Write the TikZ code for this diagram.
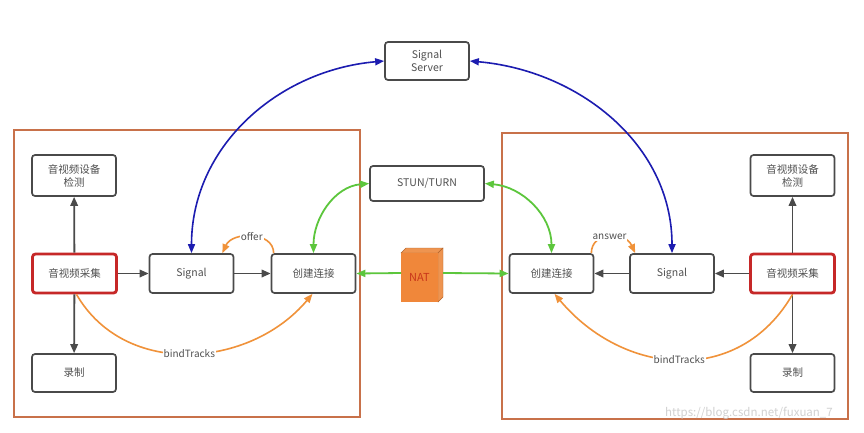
\documentclass[tikz,border=0pt]{standalone}
\usepackage{fontspec}
\setmainfont{Noto Sans CJK SC}
\usetikzlibrary{arrows.meta,calc}
\definecolor{boxline}{HTML}{4A4A4A}
\definecolor{txt}{HTML}{505050}
\definecolor{redline}{HTML}{C62828}
\definecolor{frameline}{HTML}{C8714A}
\definecolor{blueline}{HTML}{1C1CB0}
\definecolor{greenline}{HTML}{5CC63C}
\definecolor{orangeline}{HTML}{F0923A}
\definecolor{natfront}{HTML}{F0873A}
\definecolor{natside}{HTML}{EE9450}
\definecolor{nattext}{HTML}{C8361A}
\tikzset{
  box/.style={draw=boxline, line width=1.7pt, rounded corners=3pt, fill=white,
    minimum width=84pt, minimum height=39pt, inner sep=0pt, align=center,
    text=txt, font=\fontsize{10.5}{13}\selectfont},
  redbox/.style={box, draw=redline, line width=2.8pt},
  frame/.style={draw=frameline, line width=1.1pt},
  blk/.style={draw=boxline, line width=1.8pt, -{Triangle[length=9pt,width=7.5pt]}},
  blu/.style={draw=blueline, line width=1.6pt, {Triangle[length=9pt,width=7pt]}-{Triangle[length=9pt,width=7pt]}},
  grn/.style={draw=greenline, line width=1.8pt, {Triangle[length=9pt,width=7pt]}-{Triangle[length=9pt,width=7pt]}},
  grnone/.style={draw=greenline, line width=1.8pt, -{Triangle[length=9pt,width=7pt]}},
  org/.style={draw=orangeline, line width=1.6pt, -{Triangle[length=9pt,width=7pt]}},
  lbl/.style={fill=white, inner sep=1pt, text=txt, font=\fontsize{10}{12}\selectfont},
}
\begin{document}
\begin{tikzpicture}[x=1pt,y=1pt]
\useasboundingbox[fill=white] (0,0) rectangle (864,-432);
% frames
\draw[frame] (14,-130) rectangle (360,-417);
\draw[frame] (502,-133) rectangle (848,-419);
% left side
\node[box, minimum height=41pt] (LDet) at (74,-175.5) {音视频设备\\检测};
\node[redbox] (LCap) at (74.5,-273.5) {音视频采集};
\node[box, minimum height=38pt] (LRec) at (74,-373) {录制};
\node[box] (LSig) at (191.5,-273.5) {Signal};
\node[box] (LCon) at (313.5,-273.5) {创建连接};
% center
\node[box, minimum height=38pt] (SS) at (427,-61) {Signal\\Server};
\node[box, minimum width=114pt, minimum height=35pt] (STUN) at (427,-183.5) {STUN/TURN};
% NAT 3D box
\fill[natside, draw=natfront!75!black, line width=0.4pt] (401,-253) -- (406,-248) -- (443,-248) -- (438,-253) -- cycle;
\fill[natside, draw=natfront!75!black, line width=0.4pt] (438,-253) -- (443,-248) -- (443,-297) -- (438,-302) -- cycle;
\node[fill=natfront, minimum width=37pt, minimum height=49pt, inner sep=0pt, text=nattext,
  font=\fontsize{11}{13}\selectfont] (NAT) at (419.5,-277.5) {NAT};
\coordinate (NATR) at (443,-273);
\coordinate (NATL) at (401,-273);
% right side
\node[box] (RCon) at (551.5,-273.5) {创建连接};
\node[box] (RSig) at (672,-273.5) {Signal};
\node[redbox] (RCap) at (792.5,-273.5) {音视频采集};
\node[box, minimum height=41pt] (RDet) at (792.5,-175.5) {音视频设备\\检测};
\node[box, minimum height=38pt] (RRec) at (792.5,-373) {录制};
% black arrows
\draw[blk] (LCap) -- (LSig);
\draw[blk] (LSig) -- (LCon);
\draw[blk] (LCap) -- (LDet);
\draw[blk] (LCap) -- (LRec);
\draw[blk] (RCap) -- (RSig);
\draw[blk] (RSig) -- (RCon);
\draw[blk] (RCap) -- (RDet);
\draw[blk] (RCap) -- (RRec);
% blue
\draw[blu] (SS.west) to[out=185,in=90] (LSig.north);
\draw[blu] (SS.east) to[out=-5,in=90] (RSig.north);
% green
\draw[grn] (STUN.west) to[out=185,in=90] (LCon.north);
\draw[grn] (STUN.east) to[out=-5,in=90] (RCon.north);
\draw[grnone] (NATL) -- (LCon.east);
\draw[grnone] (NATR) -- (RCon.west);
% orange
\draw[org] ($(LCon.north west)+(3,0)$) .. controls +(0,22) and +(10,22) .. node[lbl, pos=0.5] {offer} ($(LSig.north east)+(-12,0)$);
\draw[org] ($(RCon.north east)+(-3,0)$) .. controls +(0,22) and +(-10,22) .. node[lbl, pos=0.5] {answer} ($(RSig.north west)+(6,0)$);
\draw[org] ($(LCap.south)+(2,0)$) to[out=-60,in=-130,looseness=1.05] node[lbl,pos=0.5] {bindTracks} ($(LCon.south)+(-1,0)$);
\draw[org] ($(RCap.south)+(0,0)$) to[out=-120,in=-50,looseness=1.15] node[lbl,pos=0.5] {bindTracks} ($(RCon.south)+(3,0)$);
% watermark
\node[text=black!18, font=\fontsize{11.5}{13}\selectfont, inner sep=0pt] (wm) at (749,-413) {https://blog.csdn.net/fuxuan\_7};
\end{tikzpicture}
\end{document}
